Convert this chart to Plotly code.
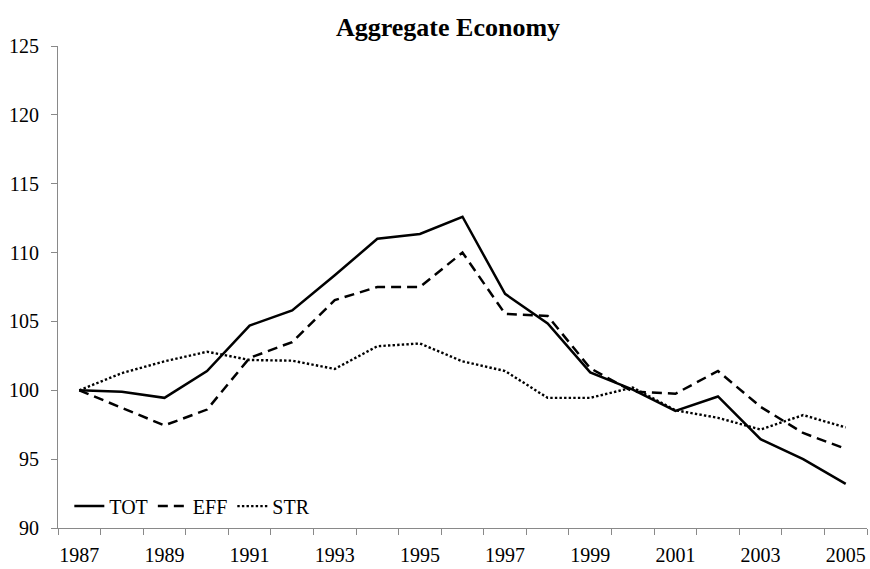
import plotly.graph_objects as go

years = list(range(1987, 2006))
tot = [100.0, 99.9, 99.45, 101.4, 104.7, 105.8, 108.35, 111.0, 111.35, 112.6,
       107.0, 104.85, 101.3, 100.05, 98.5, 99.55, 96.45, 95.0, 93.2]
eff = [100.0, 98.7, 97.45, 98.6, 102.35, 103.5, 106.55, 107.5, 107.5, 110.0,
       105.55, 105.4, 101.6, 99.9, 99.75, 101.4, 98.8, 96.9, 95.75]
strc = [100.0, 101.25, 102.1, 102.8, 102.2, 102.15, 101.55, 103.2, 103.4, 102.1,
        101.4, 99.45, 99.45, 100.2, 98.55, 98.0, 97.15, 98.2, 97.3]
x_labels = [str(y) for y in range(1987, 2006, 2)]
y_ticks = [90, 95, 100, 105, 110, 115, 120, 125]

font = "Liberation Serif, Times New Roman, serif"

fig = go.Figure()
fig.add_trace(go.Scatter(x=years, y=tot, name="TOT", mode="lines",
                         line=dict(color="black", width=2.5)))
fig.add_trace(go.Scatter(x=years, y=eff, name="EFF", mode="lines",
                         line=dict(color="black", width=2.5, dash="10px,6px")))
fig.add_trace(go.Scatter(x=years, y=strc, name="STR", mode="lines",
                         line=dict(color="black", width=2.4, dash="2.4px,2.2px")))

fig.update_layout(
    width=870, height=569,
    margin=dict(l=58, r=3, t=46, b=38),
    paper_bgcolor="white", plot_bgcolor="white",
    font=dict(family=font, size=20, color="black"),
    title=dict(text="<b>Aggregate Economy</b>", x=448/870, xanchor="center",
               y=1 - 27/569, yanchor="middle",
               font=dict(family=font, size=26, color="black")),
    showlegend=True,
    legend=dict(orientation="h", x=0.014, y=0.005, xanchor="left", yanchor="bottom",
                bgcolor="rgba(0,0,0,0)", font=dict(family=font, size=20),
                itemwidth=30, tracegroupgap=0),
    xaxis=dict(range=[1986.5, 2005.5], tickvals=[int(s) for s in x_labels],
               ticktext=x_labels, ticks="", showgrid=False, zeroline=False,
               showline=True, linecolor="#898989", linewidth=1,
               ticklabelstandoff=9,
               minor=dict(tick0=1986.5, dtick=1, ticks="outside", ticklen=6,
                          tickcolor="#898989", showgrid=False)),
    yaxis=dict(range=[90, 125], tickvals=y_ticks, ticks="outside", ticklen=6,
               tickcolor="#898989", showgrid=False, zeroline=False,
               showline=True, linecolor="#898989", linewidth=1,
               ticklabelstandoff=8),
)

fig.write_html("out.html", config={"displayModeBar": False},
               post_script="document.body.style.margin='0px';"
                           "document.body.style.overflow='hidden';")
